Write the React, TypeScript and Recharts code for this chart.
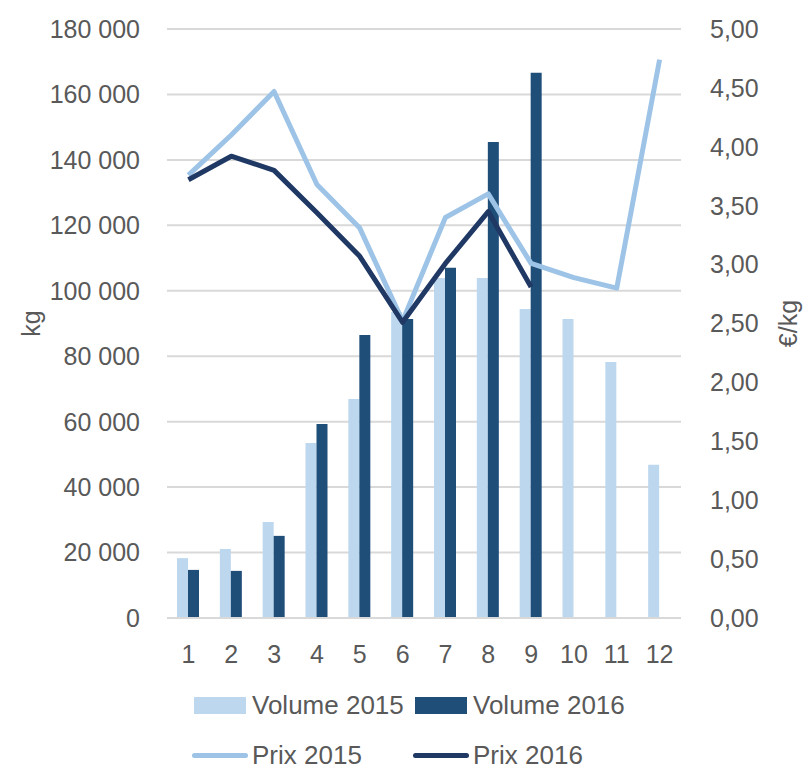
import React from 'react';
import { ComposedChart, Bar, Line, XAxis, YAxis, CartesianGrid, Legend } from 'recharts';

const months = ['1', '2', '3', '4', '5', '6', '7', '8', '9', '10', '11', '12'];
const volume2015 = [18300, 21100, 29300, 53500, 66900, 93500, 103900, 103900, 94400, 91400, 78200, 46800];
const volume2016 = [14700, 14400, 25100, 59300, 86500, 91400, 107000, 145500, 166600, null, null, null];
const prix2015 = [3.76, 4.1, 4.47, 3.68, 3.31, 2.52, 3.4, 3.6, 3.01, 2.89, 2.8, 4.74];
const prix2016 = [3.72, 3.92, 3.8, 3.44, 3.07, 2.51, 3.01, 3.45, 2.81, null, null, null];
const leftTicks = [0, 20000, 40000, 60000, 80000, 100000, 120000, 140000, 160000, 180000];
const rightTicks = [0, 0.5, 1, 1.5, 2, 2.5, 3, 3.5, 4, 4.5, 5];

const data = months.map((m, i) => ({
  month: m,
  v2015: volume2015[i],
  v2016: volume2016[i],
  p2015: prix2015[i],
  p2016: prix2016[i],
}));

const FONT = '"Liberation Sans", Arial, sans-serif';
const TXT = '#595959';
const C_V15 = '#BDD7EE';
const C_V16 = '#1F4E79';
const C_P15 = '#9DC3E6';
const C_P16 = '#1F3864';

const fmtLeft = (v: number) => (v === 0 ? '0' : `${Math.round(v / 1000)} 000`);
const fmtRight = (v: number) => v.toFixed(2).replace('.', ',');

const AxisTitle = (props: any) => {
  const vb = props.viewBox || { x: 0, y: 29, width: 0, height: 589 };
  const cx = vb.x + props.dx;
  const cy = vb.y + vb.height / 2;
  return (
    <text
      x={cx}
      y={cy}
      transform={`rotate(-90 ${cx} ${cy})`}
      textAnchor="middle"
      fill={TXT}
      fontSize={25}
      fontFamily={FONT}
    >
      {props.text}
    </text>
  );
};

const legendItems = [
  { name: 'Volume 2015', color: C_V15, type: 'rect', left: 194, top: 17 },
  { name: 'Volume 2016', color: C_V16, type: 'rect', left: 415, top: 17 },
  { name: 'Prix 2015', color: C_P15, type: 'line', left: 192, top: 67 },
  { name: 'Prix 2016', color: C_P16, type: 'line', left: 413, top: 67 },
];

const renderLegend = () => (
  <div style={{ position: 'relative', width: 803, height: 88, fontFamily: FONT, fontSize: 26, color: TXT }}>
    {legendItems.map((it) => (
      <div
        key={it.name}
        style={{ position: 'absolute', left: it.left, top: it.top, height: 40, display: 'flex', alignItems: 'center', whiteSpace: 'nowrap' }}
      >
        {it.type === 'rect' ? (
          <span style={{ display: 'inline-block', width: 52, height: 17, background: it.color, marginRight: 6 }} />
        ) : (
          <span style={{ display: 'inline-block', width: 56, height: 5, borderRadius: 3, background: it.color, marginRight: 4 }} />
        )}
        <span>{it.name}</span>
      </div>
    ))}
  </div>
);

export default function App() {
  return (
    <div style={{ position: 'absolute', left: 0, top: 0, width: 803, height: 768, background: '#fff' }}>
      <ComposedChart
        width={803}
        height={768}
        data={data}
        margin={{ top: 29, right: 0, left: 0, bottom: 12 }}
        barGap={0}
        barSize={11}
      >
        <CartesianGrid yAxisId="left" vertical={false} stroke="#D9D9D9" strokeWidth={2} />
        <XAxis
          dataKey="month"
          height={50}
          tickSize={0}
          tickLine={false}
          tickMargin={27}
          axisLine={{ stroke: '#D9D9D9', strokeWidth: 2 }}
          tick={{ fill: TXT, fontSize: 25, fontFamily: FONT }}
          interval={0}
        />
        <YAxis
          yAxisId="left"
          orientation="left"
          width={167}
          domain={[0, 180000]}
          ticks={leftTicks}
          tickFormatter={fmtLeft}
          axisLine={false}
          tickLine={false}
          tickSize={0}
          tickMargin={27}
          interval={0}
          tick={{ fill: TXT, fontSize: 25, fontFamily: FONT }}
          label={(p: any) => <AxisTitle {...p} text="kg" dx={40} />}
        />
        <YAxis
          yAxisId="right"
          orientation="right"
          width={122}
          domain={[0, 5]}
          ticks={rightTicks}
          tickFormatter={fmtRight}
          axisLine={false}
          tickLine={false}
          tickSize={0}
          tickMargin={29}
          interval={0}
          tick={{ fill: TXT, fontSize: 25, fontFamily: FONT, textAnchor: 'start' }}
          label={(p: any) => <AxisTitle {...p} text="€/kg" dx={116} />}
        />
        <Legend
          verticalAlign="bottom"
          content={renderLegend}
          wrapperStyle={{ left: 0, top: 668, width: 803, height: 88 }}
        />
        <Bar yAxisId="left" dataKey="v2015" name="Volume 2015" fill={C_V15} isAnimationActive={false} />
        <Bar yAxisId="left" dataKey="v2016" name="Volume 2016" fill={C_V16} isAnimationActive={false} />
        <Line
          yAxisId="right"
          type="linear"
          dataKey="p2015"
          name="Prix 2015"
          stroke={C_P15}
          strokeWidth={5}
          dot={false}
          strokeLinejoin="round"
          isAnimationActive={false}
        />
        <Line
          yAxisId="right"
          type="linear"
          dataKey="p2016"
          name="Prix 2016"
          stroke={C_P16}
          strokeWidth={5}
          dot={false}
          strokeLinejoin="round"
          isAnimationActive={false}
        />
      </ComposedChart>
    </div>
  );
}
